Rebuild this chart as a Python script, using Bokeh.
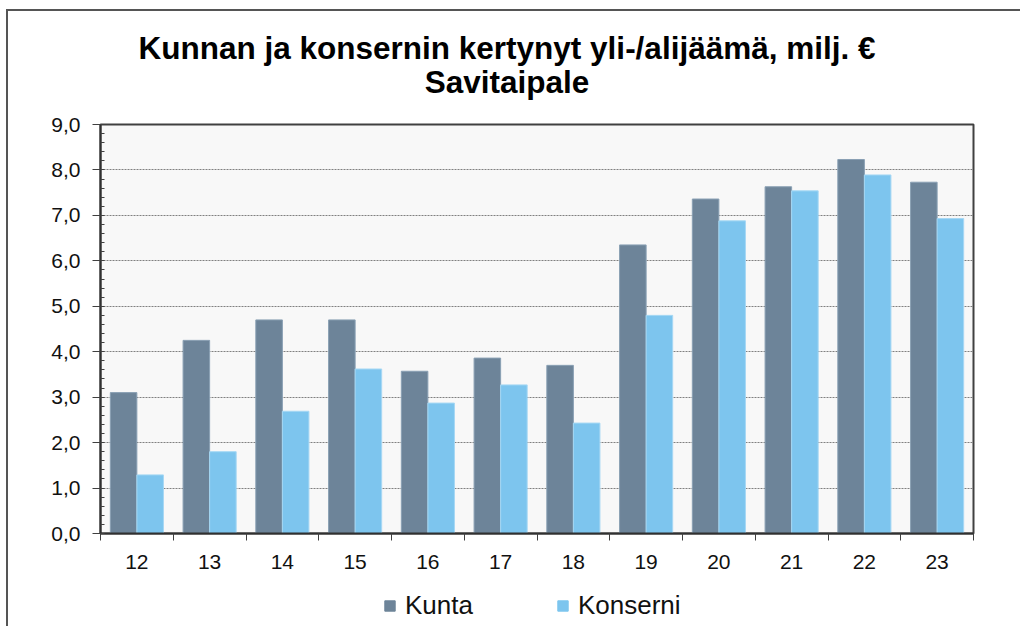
import numpy as np
from bokeh.plotting import figure
from bokeh.layouts import column
from bokeh.core.properties import value
from bokeh.models import (FixedTicker, SingleIntervalTicker, CustomJSTickFormatter,
                          Legend, LegendItem, Range1d)
from bokeh.embed import file_html
from bokeh.resources import INLINE

categories = ["12", "13", "14", "15", "16", "17", "18", "19", "20", "21", "22", "23"]
kunta = [3.10, 4.25, 4.70, 4.70, 3.57, 3.86, 3.70, 6.35, 7.36, 7.63, 8.23, 7.73]
konserni = [1.29, 1.80, 2.69, 3.62, 2.87, 3.27, 2.43, 4.80, 6.88, 7.54, 7.89, 6.93]
series_names = ["Kunta", "Konserni"]
colors = ["#6d8499", "#7dc5ee"]
edge_colors = ["#8aa0b4", "#a6d8f4"]
title_lines = ["Kunnan ja konsernin kertynyt yli-/alijäämä, milj. €", "Savitaipale"]

FONT = "Liberation Sans"
n = len(categories)
centers = np.arange(n) + 0.5
w = 0.365

# ---- title strip (pixel-based layout ranges) ----
TH = 98
tf = figure(width=1012, height=TH, output_backend="svg", toolbar_location=None,
            x_range=Range1d(0, 1), y_range=Range1d(0, TH), title=None,
            x_axis_type=None, y_axis_type=None,
            min_border_left=0, min_border_right=0, min_border_top=0, min_border_bottom=0)
tf.outline_line_color = None
tf.background_fill_color = "white"
tf.border_fill_color = "white"
tf.xgrid.grid_line_color = None
tf.ygrid.grid_line_color = None
tf.text(x=[0.5, 0.5], y=[TH - 36, TH - 70], text=title_lines,
        text_font=value(FONT), text_font_size="31.5px", text_font_style="bold",
        text_color="#000000", text_align="center", text_baseline="alphabetic",
        x_offset=-30)

# ---- main chart ----
p = figure(width=1012, height=471, output_backend="svg", toolbar_location=None,
           x_range=Range1d(0, n), y_range=Range1d(0, 9), title=None,
           min_border_left=92, min_border_right=47, min_border_top=15, min_border_bottom=47)

p.background_fill_color = "#f8f8f8"
p.border_fill_color = "white"
p.outline_line_color = "#404040"
p.outline_line_width = 2

p.vbar(x=centers - w / 2, top=kunta, width=w, bottom=0,
       fill_color=colors[0], line_color=edge_colors[0], line_width=1)
p.vbar(x=centers + w / 2, top=konserni, width=w, bottom=0,
       fill_color=colors[1], line_color=edge_colors[1], line_width=1)

# x axis
xa = p.xaxis[0]
xa.ticker = FixedTicker(ticks=list(centers), minor_ticks=list(np.arange(n + 1)))
xa.major_label_overrides = {float(c): lab for c, lab in zip(centers, categories)}
xa.major_tick_out = 0
xa.major_tick_in = 0
xa.minor_tick_out = 7
xa.minor_tick_in = 0
xa.minor_tick_line_color = "#404040"
xa.minor_tick_line_width = 1
xa.axis_line_color = "#303030"
xa.axis_line_width = 2
xa.major_label_text_font = FONT
xa.major_label_text_font_size = "21px"
xa.major_label_text_color = "#111111"
xa.major_label_standoff = 14

# y axis
ya = p.yaxis[0]
ya.ticker = SingleIntervalTicker(interval=1, num_minor_ticks=5)
ya.formatter = CustomJSTickFormatter(code="return tick.toFixed(1).replace('.', ',')")
ya.major_tick_out = 8
ya.major_tick_in = 0
ya.minor_tick_in = 4
ya.minor_tick_out = 0
ya.major_tick_line_color = "#404040"
ya.minor_tick_line_color = "#404040"
ya.axis_line_color = "#303030"
ya.axis_line_width = 2
ya.major_label_text_font = FONT
ya.major_label_text_font_size = "21px"
ya.major_label_text_color = "#111111"
ya.major_label_standoff = 12

p.xgrid.grid_line_color = None
p.ygrid.ticker = SingleIntervalTicker(interval=1)
p.ygrid.grid_line_color = "#808080"
p.ygrid.grid_line_dash = "2 1"
p.ygrid.grid_line_width = 1

# ---- legend strip below the chart (same data, drawn out of view; only the legend shows) ----
lf = figure(width=1012, height=46, output_backend="svg", toolbar_location=None,
            x_range=Range1d(0, n), y_range=Range1d(100, 101), title=None,
            x_axis_type=None, y_axis_type=None,
            min_border_left=0, min_border_right=0, min_border_top=0, min_border_bottom=0)
lf.outline_line_color = None
lf.background_fill_color = "white"
lf.border_fill_color = "white"
lf.xgrid.grid_line_color = None
lf.ygrid.grid_line_color = None
l1 = lf.vbar(x=centers - w / 2, top=kunta, width=w, bottom=0,
             fill_color=colors[0], line_color=colors[0])
l2 = lf.vbar(x=centers + w / 2, top=konserni, width=w, bottom=0,
             fill_color=colors[1], line_color=colors[1])

legend = Legend(items=[LegendItem(label=series_names[0], renderers=[l1]),
                       LegendItem(label=series_names[1], renderers=[l2])],
                orientation="horizontal", location=(283, 5))
legend.glyph_width = 13
legend.glyph_height = 13
legend.label_standoff = 9
legend.spacing = 83
legend.padding = 0
legend.margin = 0
legend.border_line_color = None
legend.background_fill_alpha = 0
legend.label_text_font = FONT
legend.label_text_font_size = "26px"
legend.label_text_color = "#111111"
lf.add_layout(legend)

layout = column(tf, p, lf, spacing=0)
layout.styles = {"border-top": "2px solid #555555", "border-left": "2px solid #555555",
                 "margin-left": "6px", "margin-top": "9px"}
open("out.html", "w").write(file_html(layout, INLINE))
